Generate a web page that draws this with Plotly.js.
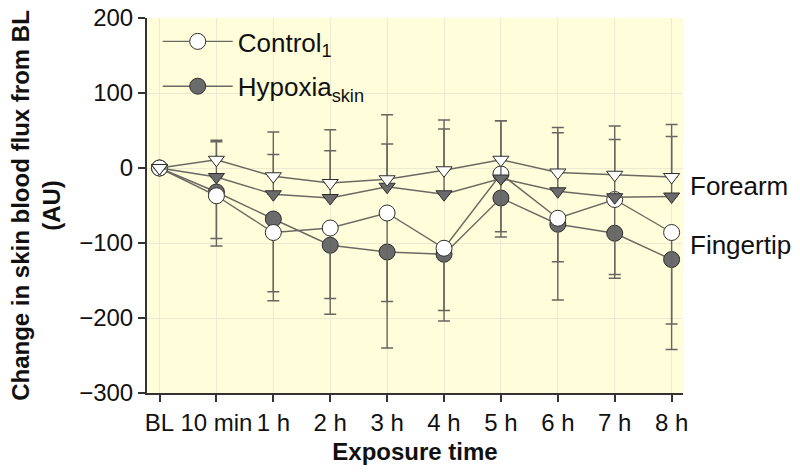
<!DOCTYPE html>
<html>
<head>
<meta charset="utf-8">
<script src="https://cdn.plot.ly/plotly-3.0.1.min.js"></script>
<style>html,body{margin:0;padding:0;background:#fff;}#chart{width:800px;height:474px;}</style>
</head>
<body>
<div id="chart"></div>
<script>
// Categories (exposure time)
var categories = ["BL", "10 min", "1 h", "2 h", "3 h", "4 h", "5 h", "6 h", "7 h", "8 h"];

// Forearm (triangles) – mean change and upper error
var forearmControl = [0, 11, -11, -20, -15, -3, 11, -6, -9, -12];
var forearmControlErr = [0, 26, 59, 71, 86, 67, 52, 60, 65, 70];
var forearmHypoxia = [0, -12, -35, -40, -25, -35, -14, -31, -39, -38];
var forearmHypoxiaErr = [0, 47, 53, 63, 57, 87, 77, 78, 77, 80];

// Fingertip (circles) – mean change and lower error
var fingertipControl = [0, -37, -86, -80, -60, -107, -8, -67, -42, -86];
var fingertipControlErr = [0, 57, 79, 94, 118, 83, 77, 58, 100, 122];
var fingertipHypoxia = [0, -32, -68, -103, -112, -115, -40, -75, -87, -122];
var fingertipHypoxiaErr = [0, 72, 109, 92, 128, 89, 52, 101, 60, 120];

var legendNames = ["Control<sub>1</sub>", "Hypoxia<sub>skin</sub>"];
var sideLabels = ["Forearm", "Fingertip"];
var sideLabelY = [-24, -103];

var lineCol = "#6a6a63";
var errCol = "#66665f";
var darkFill = "#6b6b6b";
var edgeCol = "#2e2e2e";

var xIdx = categories.map(function(c, i){ return i; });
var zeros = categories.map(function(){ return 0; });

function mk(y, err, up, symbol, fill, size, name, showleg, rank) {
  return {
    type: "scatter", mode: "lines+markers", x: xIdx, y: y, name: name, showlegend: showleg,
    legendgroup: name, legendrank: rank,
    line: {color: lineCol, width: 1.4},
    marker: {symbol: symbol, size: size, color: fill, line: {color: edgeCol, width: 1}},
    error_y: {type: "data", symmetric: false,
      array: up ? err : zeros, arrayminus: up ? zeros : err,
      color: errCol, thickness: 1.4, width: 6}
  };
}

var traces = [
  mk(fingertipHypoxia, fingertipHypoxiaErr, false, "circle", darkFill, 16, legendNames[1], true, 2),
  mk(fingertipControl, fingertipControlErr, false, "circle", "#ffffff", 16, legendNames[0], true, 1),
  mk(forearmHypoxia, forearmHypoxiaErr, true, "triangle-down", darkFill, 14, "fh", false, 3),
  mk(forearmControl, forearmControlErr, true, "triangle-down", "#ffffff", 14, "fc", false, 4)
];

var font = "Liberation Sans, Arial, sans-serif";
var layout = {
  width: 800, height: 474,
  margin: {l: 147, r: 117, t: 18, b: 81},
  paper_bgcolor: "#ffffff",
  plot_bgcolor: "#fffdda",
  font: {family: font, color: "#111111", size: 24},
  showlegend: true,
  legend: {
    x: 0.02, y: 1.0, xanchor: "left", yanchor: "top",
    bgcolor: "rgba(0,0,0,0)", font: {size: 26, family: font, color: "#111"},
    traceorder: "grouped", tracegroupgap: 8, itemwidth: 70
  },
  xaxis: {
    range: [-0.22, 9.2],
    tickmode: "array", tickvals: xIdx, ticktext: categories,
    showgrid: true, gridcolor: "#ecebd2", gridwidth: 1,
    zeroline: false,
    showline: true, linecolor: "#333", linewidth: 2,
    ticks: "outside", ticklen: 7, tickwidth: 2, tickcolor: "#333",
    tickfont: {size: 24, family: font, color: "#111"},
    title: {text: "<b>Exposure time</b>", font: {size: 24, family: font, color: "#111"}, standoff: 8}
  },
  yaxis: {
    range: [-300, 200],
    tickmode: "array", tickvals: [-300, -200, -100, 0, 100, 200],
    ticktext: ["\u2212300", "\u2212200", "\u2212100", "0", "100", "200"],
    showgrid: true, gridcolor: "#ecebd2", gridwidth: 1,
    zeroline: false,
    showline: true, linecolor: "#333", linewidth: 2,
    ticks: "outside", ticklen: 7, tickwidth: 2, tickcolor: "#333",
    tickfont: {size: 24, family: font, color: "#111"},
    title: {text: "<b>Change in skin blood flux from BL<br>(AU)</b>", font: {size: 24, family: font, color: "#111"}, standoff: 12}
  },
  annotations: sideLabels.map(function(t, i){
    return {xref: "paper", yref: "y", x: 1.01, y: sideLabelY[i], xanchor: "left", yanchor: "middle",
      text: t, showarrow: false, font: {size: 26, family: font, color: "#111"}};
  })
};

Plotly.newPlot("chart", traces, layout, {displayModeBar: false, staticPlot: true});
</script>
</body>
</html>
